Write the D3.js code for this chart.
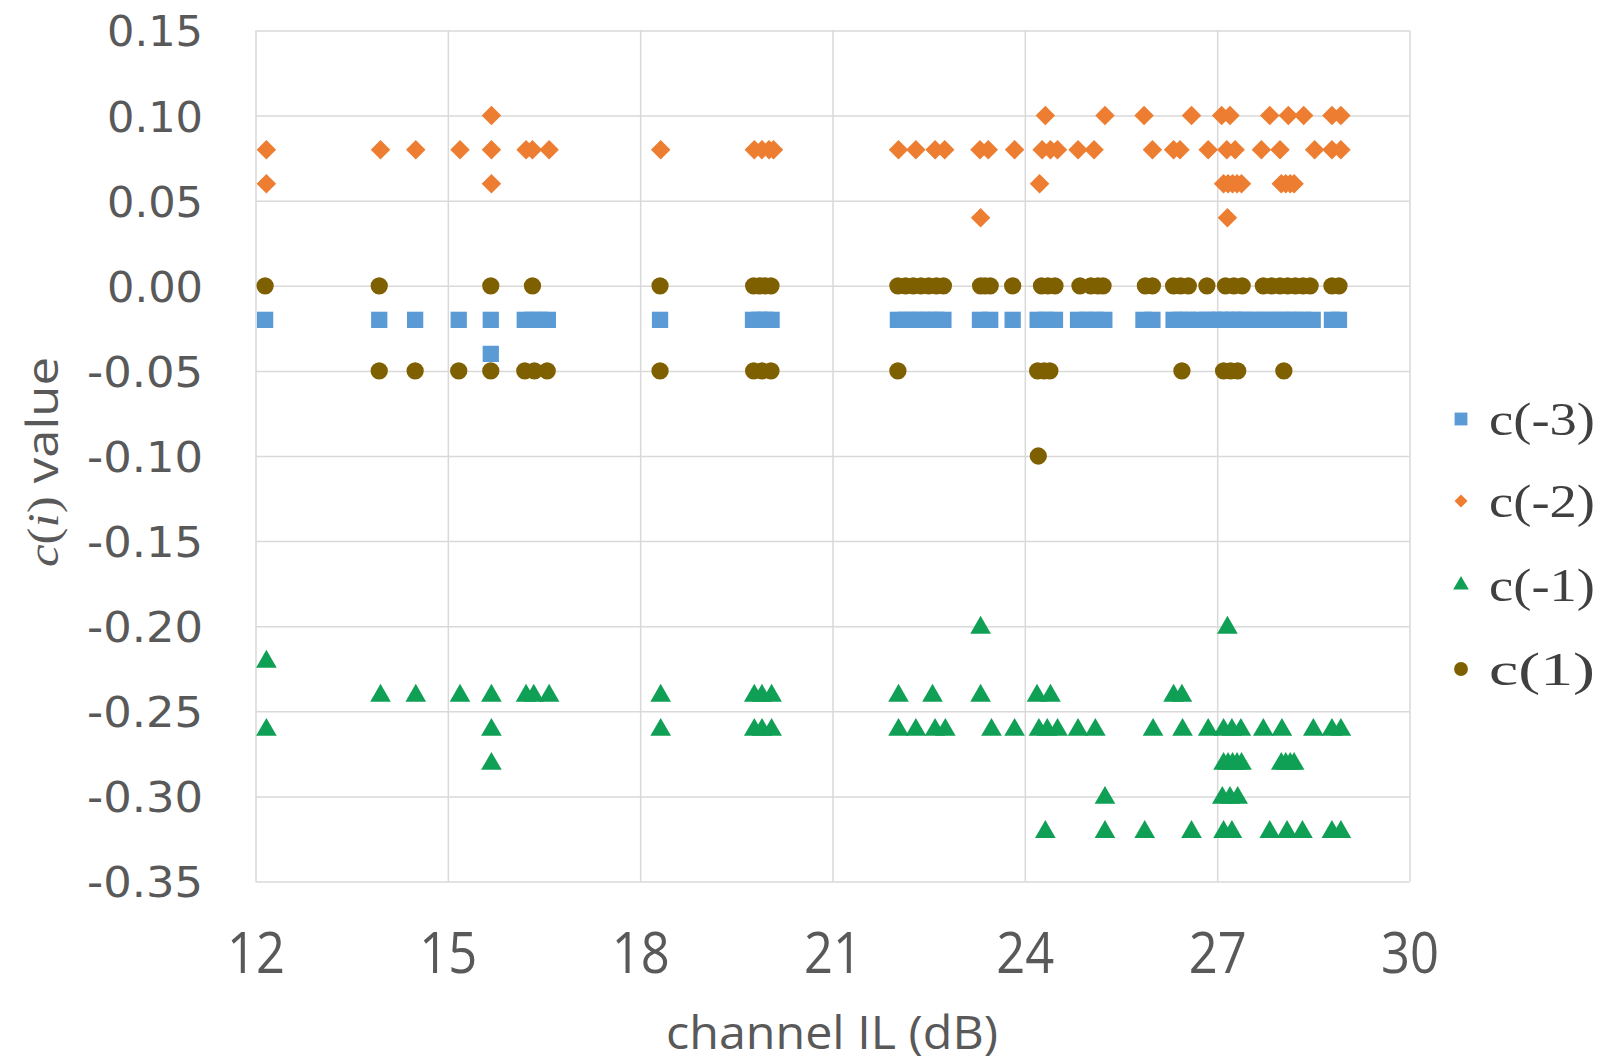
<!DOCTYPE html>
<html>
<head>
<meta charset="utf-8">
<script src="https://cdn.jsdelivr.net/npm/d3@7"></script>
<style>
  html, body { margin: 0; padding: 0; background: #ffffff; }
  svg { display: block; }
</style>
</head>
<body>
<svg id="chart" width="1602" height="1061"></svg>
<script>
// Tap coefficients vs. channel insertion loss, one point per channel.
const xTicks = [12, 15, 18, 21, 24, 27, 30];
const yTicks = [0.15, 0.10, 0.05, 0.00, -0.05, -0.10, -0.15, -0.20, -0.25, -0.30, -0.35];

// c(-3)
const cm3X = [12.15, 13.93, 14.49, 15.17, 15.67, 15.67, 16.2, 16.32, 16.44, 16.56, 18.31,
  19.76, 19.86, 19.95, 20.05, 22.02, 22.14, 22.26, 22.38, 22.5, 22.62, 22.73, 23.3, 23.46,
  23.81, 24.2, 24.33, 24.47, 24.83, 24.97, 25.1, 25.24, 25.85, 25.99, 26.32, 26.43, 26.55,
  26.7, 26.84, 26.95, 27.05, 27.15, 27.25, 27.35, 27.45, 27.6, 27.72, 27.85, 27.98, 28.1,
  28.22, 28.34, 28.49, 28.79, 28.9];
const cm3Y = [-0.02, -0.02, -0.02, -0.02, -0.02, -0.04, -0.02, -0.02, -0.02, -0.02, -0.02,
  -0.02, -0.02, -0.02, -0.02, -0.02, -0.02, -0.02, -0.02, -0.02, -0.02, -0.02, -0.02, -0.02,
  -0.02, -0.02, -0.02, -0.02, -0.02, -0.02, -0.02, -0.02, -0.02, -0.02, -0.02, -0.02, -0.02,
  -0.02, -0.02, -0.02, -0.02, -0.02, -0.02, -0.02, -0.02, -0.02, -0.02, -0.02, -0.02, -0.02,
  -0.02, -0.02, -0.02, -0.02, -0.02];

// c(-2)
const cm2X = [15.68, 24.32, 25.25, 25.86, 26.6, 27.07, 27.2, 27.82, 28.11, 28.35, 28.79, 28.93,
  12.17, 13.95, 14.5, 15.19, 15.68, 16.22, 16.32, 16.58, 18.32, 19.78, 19.9, 20.01, 20.08,
  22.03, 22.3, 22.6, 22.75, 23.3, 23.43, 23.84, 24.27, 24.4, 24.51, 24.83, 25.08, 25.99,
  26.32, 26.42, 26.86, 27.15, 27.28, 27.69, 27.98, 28.52, 28.79, 28.93,
  12.17, 15.68, 24.23, 27.1, 27.17, 27.24, 27.31, 27.38, 28.0, 28.07, 28.14, 28.2,
  23.31, 27.16];
const cm2Y = [0.10, 0.10, 0.10, 0.10, 0.10, 0.10, 0.10, 0.10, 0.10, 0.10, 0.10, 0.10,
  0.08, 0.08, 0.08, 0.08, 0.08, 0.08, 0.08, 0.08, 0.08, 0.08, 0.08, 0.08, 0.08,
  0.08, 0.08, 0.08, 0.08, 0.08, 0.08, 0.08, 0.08, 0.08, 0.08, 0.08, 0.08, 0.08,
  0.08, 0.08, 0.08, 0.08, 0.08, 0.08, 0.08, 0.08, 0.08, 0.08,
  0.06, 0.06, 0.06, 0.06, 0.06, 0.06, 0.06, 0.06, 0.06, 0.06, 0.06, 0.06,
  0.04, 0.04];

// c(-1)
const cm1X = [23.31, 27.16,
  12.17,
  13.95, 14.5, 15.19, 15.68, 16.22, 16.34, 16.58, 18.32, 19.78, 19.9, 20.05, 22.03, 22.56,
  23.31, 24.19, 24.4, 26.32, 26.45,
  12.17, 15.68, 18.32, 19.78, 19.9, 20.05, 22.03, 22.3, 22.6, 22.76, 23.48, 23.84, 24.22,
  24.35, 24.51, 24.83, 25.1, 26.0, 26.46, 26.86, 27.1, 27.23, 27.37, 27.72, 28.01, 28.5,
  28.79, 28.93,
  15.68, 27.1, 27.17, 27.24, 27.31, 27.38, 28.0, 28.07, 28.14, 28.2,
  25.25, 27.08, 27.2, 27.32,
  24.32, 25.25, 25.87, 26.6, 27.1, 27.23, 27.82, 28.09, 28.33, 28.79, 28.93];
const cm1Y = [-0.20, -0.20,
  -0.22,
  -0.24, -0.24, -0.24, -0.24, -0.24, -0.24, -0.24, -0.24, -0.24, -0.24, -0.24, -0.24, -0.24,
  -0.24, -0.24, -0.24, -0.24, -0.24,
  -0.26, -0.26, -0.26, -0.26, -0.26, -0.26, -0.26, -0.26, -0.26, -0.26, -0.26, -0.26, -0.26,
  -0.26, -0.26, -0.26, -0.26, -0.26, -0.26, -0.26, -0.26, -0.26, -0.26, -0.26, -0.26, -0.26,
  -0.26, -0.26,
  -0.28, -0.28, -0.28, -0.28, -0.28, -0.28, -0.28, -0.28, -0.28, -0.28,
  -0.30, -0.30, -0.30, -0.30,
  -0.32, -0.32, -0.32, -0.32, -0.32, -0.32, -0.32, -0.32, -0.32, -0.32, -0.32];

// c(1)
const cp1X = [12.15, 13.93, 15.67, 16.32, 18.31, 19.77, 19.86, 19.95, 20.04,
  22.02, 22.14, 22.26, 22.38, 22.5, 22.62, 22.73, 23.31, 23.38, 23.46, 23.81, 24.26, 24.36,
  24.47, 24.86, 25.03, 25.14, 25.22, 25.88, 25.99, 26.32, 26.43, 26.55, 26.84, 27.13, 27.26,
  27.39, 27.72, 27.85, 27.98, 28.1, 28.22, 28.34, 28.45, 28.79, 28.9,
  13.93, 14.49, 15.17, 15.67, 16.2, 16.35, 16.55, 18.31, 19.77, 19.9, 20.04, 22.02, 24.2,
  24.3, 24.39, 26.45, 27.1, 27.21, 27.32, 28.04,
  24.21];
const cp1Y = [0, 0, 0, 0, 0, 0, 0, 0, 0,
  0, 0, 0, 0, 0, 0, 0, 0, 0, 0, 0, 0, 0,
  0, 0, 0, 0, 0, 0, 0, 0, 0, 0, 0, 0, 0,
  0, 0, 0, 0, 0, 0, 0, 0, 0, 0,
  -0.05, -0.05, -0.05, -0.05, -0.05, -0.05, -0.05, -0.05, -0.05, -0.05, -0.05, -0.05, -0.05,
  -0.05, -0.05, -0.05, -0.05, -0.05, -0.05, -0.05,
  -0.10];

const seriesNames = ["c(-3)", "c(-2)", "c(-1)", "c(1)"];

// ---- layout ----
const svg = d3.select("#chart");
const x = d3.scaleLinear().domain([12, 30]).range([255.5, 1409.5]);
const y = d3.scaleLinear().domain([-0.35, 0.15]).range([881.5, 30.5]);

const series = [
  { name: seriesNames[0], xs: cm3X, ys: cm3Y, color: "#5B9BD5", shape: d3.symbolSquare, size: 265, legendSize: 165, rot: 0 },
  { name: seriesNames[1], xs: cm2X, ys: cm2Y, color: "#ED7D31", shape: d3.symbolSquare, size: 190, legendSize: 85, rot: 45 },
  { name: seriesNames[2], xs: cm1X, ys: cm1Y, color: "#0FA055", shape: d3.symbolTriangle, size: 185, legendSize: 105, rot: 0 },
  { name: seriesNames[3], xs: cp1X, ys: cp1Y, color: "#7F6000", shape: d3.symbolCircle, size: 235, legendSize: 150, rot: 0 }
];

// gridlines (drawn from the axes with full-length ticks)
const grid = svg.append("g").attr("class", "grid");
grid.append("g")
  .attr("transform", `translate(0,${y.range()[0]})`)
  .call(d3.axisBottom(x).tickValues(xTicks).tickSize(-(y.range()[0] - y.range()[1])).tickFormat(""))
  .call(g => g.select(".domain").remove())
  .call(g => g.selectAll("line").attr("stroke", "#d9d9d9").attr("stroke-width", 1.5));
grid.append("g")
  .attr("transform", `translate(${x.range()[0]},0)`)
  .call(d3.axisLeft(y).tickValues(yTicks).tickSize(-(x.range()[1] - x.range()[0])).tickFormat(""))
  .call(g => g.select(".domain").remove())
  .call(g => g.selectAll("line").attr("stroke", "#d9d9d9").attr("stroke-width", 1.5));

// tick labels
const fmtY = v => d3.format(".2f")(v).replace("\u2212", "-");
const yAxis = svg.append("g")
  .attr("transform", `translate(203,0)`)
  .call(d3.axisLeft(y).tickValues(yTicks).tickSize(0).tickPadding(0).tickFormat(fmtY));
yAxis.select(".domain").remove();
yAxis.selectAll("text")
  .attr("font-family", "'DejaVu Sans', sans-serif")
  .attr("font-size", 43)
  .attr("fill", "#595959")
  .attr("dy", "0.36em")
  .attr("textLength", d => d < 0 ? 116 : 96)
  .attr("lengthAdjust", "spacingAndGlyphs");

const xAxis = svg.append("g")
  .attr("transform", `translate(0,952)`)
  .call(d3.axisBottom(x).tickValues(xTicks).tickSize(0).tickPadding(0).tickFormat(d3.format("d")));
xAxis.select(".domain").remove();
xAxis.selectAll("text")
  .attr("font-family", "'Open Sans', sans-serif")
  .attr("font-size", 57)
  .attr("fill", "#595959")
  .attr("dy", "0.36em")
  .attr("textLength", 58)
  .attr("lengthAdjust", "spacingAndGlyphs");

// axis titles
svg.append("text")
  .attr("x", 832).attr("y", 1049)
  .attr("text-anchor", "middle")
  .attr("font-family", "'Open Sans', sans-serif")
  .attr("font-size", 45)
  .attr("fill", "#595959")
  .attr("textLength", 332)
  .attr("lengthAdjust", "spacingAndGlyphs")
  .text("channel IL (dB)");

const yTitle = svg.append("text")
  .attr("transform", "translate(58,462) rotate(-90)")
  .attr("text-anchor", "middle")
  .attr("font-size", 44)
  .attr("fill", "#595959")
  .attr("textLength", 210)
  .attr("lengthAdjust", "spacingAndGlyphs");
yTitle.append("tspan").attr("font-family", "'Liberation Serif', serif").attr("font-style", "italic").text("c");
yTitle.append("tspan").attr("font-family", "'Liberation Serif', serif").text("(");
yTitle.append("tspan").attr("font-family", "'Liberation Serif', serif").attr("font-style", "italic").text("i");
yTitle.append("tspan").attr("font-family", "'Liberation Serif', serif").text(")");
yTitle.append("tspan").attr("font-family", "'Open Sans', sans-serif").text(" value");

// markers
const marks = svg.append("g").attr("class", "marks");
series.forEach(s => {
  const pts = s.xs.map((v, i) => ({ x: v, y: s.ys[i] }));
  marks.append("g")
    .selectAll("path")
    .data(pts)
    .join("path")
    .attr("d", d3.symbol().type(s.shape).size(s.size))
    .attr("transform", d => `translate(${x(d.x)},${y(d.y) + (s.shape === d3.symbolTriangle ? 1.5 : 0)}) rotate(${s.rot})`)
    .attr("fill", s.color);
});

// legend
const legendY = [419, 501, 585, 669];
const legend = svg.append("g").attr("class", "legend");
series.forEach((s, i) => {
  legend.append("path")
    .attr("d", d3.symbol().type(s.shape).size(s.legendSize))
    .attr("transform", `translate(1461,${legendY[i]}) rotate(${s.rot})`)
    .attr("fill", s.color);
  legend.append("text")
    .attr("x", 1489).attr("y", legendY[i])
    .attr("dy", "0.35em")
    .attr("font-family", "'Liberation Serif', serif")
    .attr("font-size", 46)
    .attr("fill", "#404040")
    .attr("textLength", 106)
    .attr("lengthAdjust", "spacingAndGlyphs")
    .text(s.name);
});
</script>
</body>
</html>
